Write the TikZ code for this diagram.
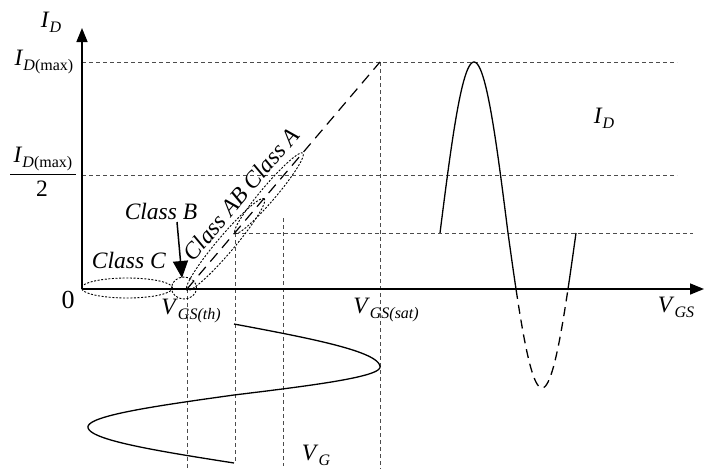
\documentclass[tikz,border=0pt]{standalone}
\usepackage{fontspec}
\setmainfont{Liberation Serif}
\usetikzlibrary{arrows.meta}
\newcommand{\lbl}[2]{\textit{#1}\raisebox{-0.45ex}{\fontsize{16}{16}\selectfont #2}}
\begin{document}
\begin{tikzpicture}[x=1pt,y=1pt,
  lab/.style={font=\fontsize{23.5}{27}\selectfont, inner sep=0pt},
  gridline/.style={draw=black!70, line width=0.7pt, dash pattern=on 4pt off 3pt},
  axisline/.style={line width=1.5pt, -{Triangle[length=14pt,width=11pt]}},
  wave/.style={line width=1.3pt},
  dotline/.style={line width=0.9pt, dash pattern=on 2pt off 1.6pt},
  longdash/.style={line width=1.2pt, dash pattern=on 11pt off 7pt},
  bigarrow/.style={line width=1.5pt, -{Triangle[length=17pt,width=15pt]}}]
\useasboundingbox (0,0) rectangle (704,-469);
% key coordinates
\coordinate (O) at (82,-289);
\coordinate (Ytip) at (82,-28);
\coordinate (Xtip) at (704,-289);
\coordinate (Th) at (187,-289);
\coordinate (Sat) at (380,-62);
% grid lines
\draw[gridline] (82,-62) -- (677,-62);
\draw[gridline] (82,-175) -- (677,-175);
\draw[gridline] (235,-233) -- (693,-233);
\draw[gridline] (Th) -- (187,-469);
\draw[gridline] (235,-233) -- (235,-463);
\draw[gridline] (283,-218) -- (283,-466);
\draw[gridline] (Sat) -- (380,-469);
% axes
\draw[axisline] (O) -- (Ytip);
\draw[axisline] (O) -- (Xtip);
% transfer characteristic
\draw[longdash] (Th) -- (Sat);
% class ellipses
\draw[dotline] (127,-288) ellipse [x radius=45.5, y radius=10];
\draw[dotline] (184,-288) ellipse [x radius=12.5, y radius=11];
\draw[dotline, rotate around={49.75:(225.6,-244.4)}] (225.6,-244.4) ellipse [x radius=60, y radius=8.5];
\draw[dotline, rotate around={49.75:(269,-193.1)}] (269,-193.1) ellipse [x radius=52.5, y radius=7.5];
% output current wave
\draw[wave, variable=\t, samples=50] plot[domain=0:180] ({440+0.37778*\t},{-233+171*sin(\t)})
  -- plot[domain=180:201.58] ({440+0.37778*\t},{-233+155*sin(\t)});
\draw[wave, dash pattern=on 9pt off 6pt, variable=\t, samples=50, domain=201.58:338.42]
  plot ({440+0.37778*\t},{-233+155*sin(\t)});
\draw[wave, variable=\t, samples=20, domain=338.42:360]
  plot ({440+0.37778*\t},{-233+155*sin(\t)});
% input voltage wave
\draw[wave, variable=\t, samples=40]
  plot[domain=0:90] ({234+146*sin(\t)},{-(324+0.47778*\t)})
  -- plot[domain=90:180] ({234+146*sin(\t)},{-(367+0.31111*(\t-90))})
  -- plot[domain=180:270] ({234+146*sin(\t)},{-(395+0.35556*(\t-180))})
  -- plot[domain=270:360] ({234+146*sin(\t)},{-(427+0.4*(\t-270))});
% labels
\node[lab] (lID) at (51,-22) {\lbl{I}{\textit{D}}};
\node[lab] (lIDmax) at (44,-62) {\lbl{I}{\textit{D}(max)}};
\node[lab] (lnum) at (43,-159) {\lbl{I}{\textit{D}(max)}};
\draw[line width=0.8pt] (10,-174) -- (76,-174);
\node[lab] (lden) at (42,-189) {2};
\node[lab, font=\fontsize{26}{30}\selectfont] (lzero) at (68,-300) {0};
\node[lab] (lC) at (129,-260) {\textit{Class C}};
\node[lab] (lB) at (161,-211) {\textit{Class B}};
\coordinate (Bstart) at (177,-222);
\coordinate (Bend) at (182,-278);
\draw[bigarrow] (Bstart) -- (Bend);
\node[lab, rotate=49.75] (lAB) at (241,-194) {\textit{Class AB Class A}};
\node[lab] (lth) at (191,-311) {\lbl{V}{\textit{GS(th)}}};
\node[lab] (lsat) at (386,-310) {\lbl{V}{\textit{GS(sat)}}};
\node[lab] (lVGS) at (676,-307) {\lbl{V}{\textit{GS}}};
\node[lab] (lID2) at (604,-118) {\lbl{I}{\textit{D}}};
\node[lab] (lVG) at (316,-455) {\lbl{V}{\textit{G}}};
\end{tikzpicture}
\end{document}
